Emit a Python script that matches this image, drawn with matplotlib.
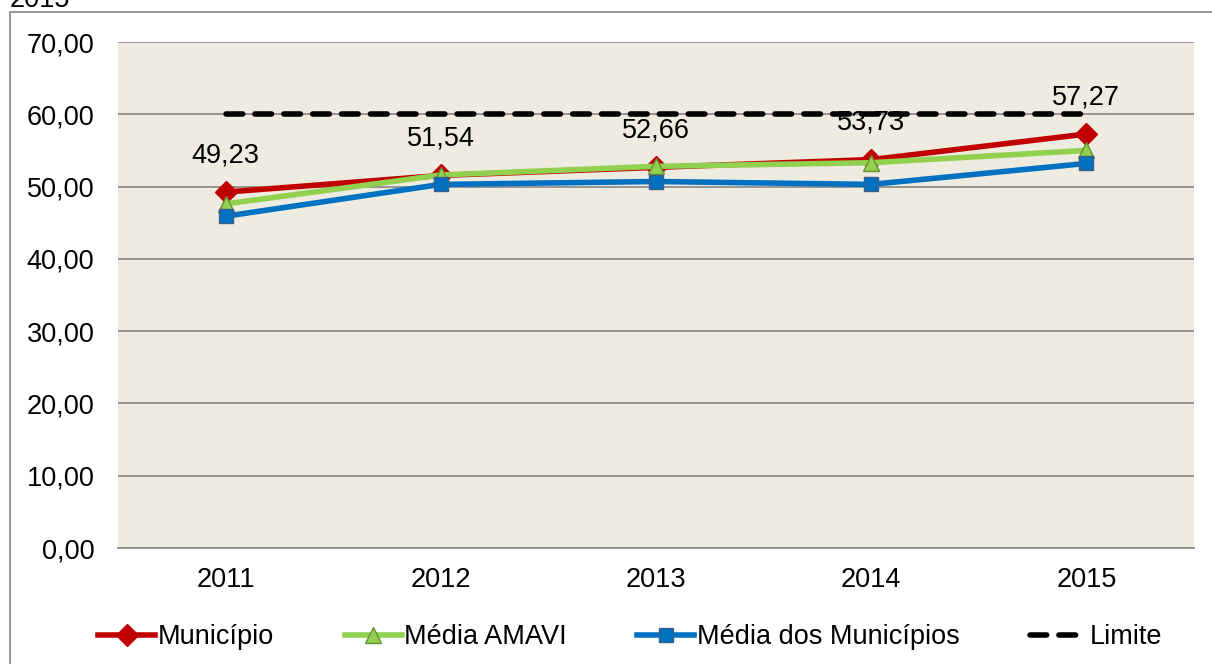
import matplotlib
matplotlib.use("Agg")
import matplotlib.pyplot as plt
from matplotlib.patches import Rectangle

plt.rcParams['font.family'] = ['Liberation Sans', 'DejaVu Sans']

# Data
anos = ['2011', '2012', '2013', '2014', '2015']
municipio = [49.23, 51.54, 52.66, 53.73, 57.27]
media_amavi = [47.6, 51.6, 52.8, 53.3, 55.0]
media_municipios = [45.9, 50.3, 50.7, 50.3, 53.2]
limite = [60, 60, 60, 60, 60]
rotulos = ['49,23', '51,54', '52,66', '53,73', '57,27']
yticks = [0, 10, 20, 30, 40, 50, 60, 70]

FS = 19.5

fig = plt.figure(figsize=(12.12, 6.64), dpi=100)

# outer chart frame (partially cut off, like the original)
fig.patches.append(Rectangle((10 / 1212, -0.1), 1.2, (664 - 12) / 664 + 0.1,
                             transform=fig.transFigure, fill=False,
                             edgecolor='#868686', linewidth=1.2))
fig.text(10 / 1212, 1.0, '2015', fontsize=FS, va='center', ha='left')

ax = fig.add_axes([118 / 1212, 1 - 548 / 664, (1194 - 118) / 1212, (548 - 42) / 664])
ax.set_facecolor('#EEEBE1')

x = list(range(len(anos)))

ax.plot(x, limite, color='black', linewidth=4, linestyle=(0, (3, 2.2)),
        dash_capstyle='round', label='Limite', zorder=3)
ax.plot(x, municipio, color='#C00000', linewidth=4, marker='D', markersize=11,
        markerfacecolor='#C00000', markeredgecolor='#C00000', label='Município', zorder=4)
ax.plot(x, media_amavi, color='#92D050', linewidth=4, marker='^', markersize=11,
        markerfacecolor='#92D050', markeredgecolor='#6A8E3A', label='Média AMAVI', zorder=5)
ax.plot(x, media_municipios, color='#0070C0', linewidth=4, marker='s', markersize=10,
        markerfacecolor='#0070C0', markeredgecolor='#3A5F8A', label='Média dos Municípios', zorder=6)

for xi, v, t in zip(x, municipio, rotulos):
    ax.annotate(t, (xi, v), xytext=(0, 17), textcoords='offset points',
                ha='center', va='bottom', fontsize=FS, zorder=7)

ax.set_xlim(-0.5, len(anos) - 0.5)
ax.set_ylim(0, 70)
ax.set_yticks(yticks)
ax.set_yticklabels(['%d,00' % v for v in yticks])
ax.set_xticks(x)
ax.set_xticklabels(anos)
ax.tick_params(axis='both', length=0, labelsize=FS)
ax.tick_params(axis='y', pad=17)
ax.tick_params(axis='x', pad=14)
ax.yaxis.grid(True, color='#868686', linewidth=1.2)
ax.set_axisbelow(True)
for s in ['left', 'right', 'top']:
    ax.spines[s].set_visible(False)
ax.spines['bottom'].set_color('#868686')
ax.spines['bottom'].set_linewidth(1.2)

handles, labels = ax.get_legend_handles_labels()
order = [1, 2, 3, 0]
fig.legend([handles[i] for i in order], [labels[i] for i in order],
           loc='center', bbox_to_anchor=(0.52, 1 - 637 / 664), ncol=4,
           frameon=False, fontsize=FS, handlelength=2.1, handletextpad=0.1,
           columnspacing=2.6)

fig.savefig('out.png', dpi=100)
